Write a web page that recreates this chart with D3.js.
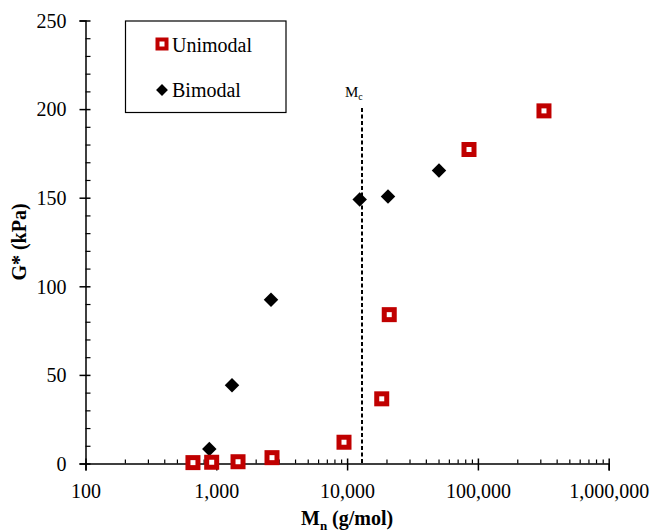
<!DOCTYPE html>
<html>
<head>
<meta charset="utf-8">
<script src="https://cdn.jsdelivr.net/npm/d3@7"></script>
<style>
  body { margin: 0; background: #fff; }
  svg { font-family: "Liberation Serif", "Times New Roman", serif; }
</style>
</head>
<body>
<svg></svg>
<script>
// Data
const uniMn = [663, 922, 1466, 2666, 9470, 18400, 21000, 85500, 320000];
const uniG = [0.5, 0.7, 1.0, 3.3, 12, 36.5, 84, 177.2, 199];
const biMn = [884, 1318, 2619, 12480, 20550, 50400];
const biG = [8.2, 44.1, 92.4, 149, 150.7, 165.4];
const mcValue = 13000;
const xMajor = [100, 1000, 10000, 100000, 1000000];
const yMajor = [0, 50, 100, 150, 200, 250];
const legendLabels = ["Unimodal", "Bimodal"];

const width = 654, height = 532;
const margin = {top: 20.5, right: 45.3, bottom: 68.5, left: 85.5};
const red = "#C00000";

const svg = d3.select("svg").attr("width", width).attr("height", height);

const x = d3.scaleLog()
  .domain([100, 1000000])
  .range([margin.left, width - margin.right]);
const y = d3.scaleLinear()
  .domain([0, 250])
  .range([height - margin.bottom, margin.top]);

const y0 = y(0);

// minor ticks
let xMinor = [];
for (let e = 2; e < 6; e++) {
  for (let k = 2; k < 10; k++) xMinor.push(k * Math.pow(10, e));
}
const yMinor = d3.range(0, 251, 10).filter(d => d % 50 != 0);

// x axis
const gx = svg.append("g").attr("transform", `translate(0,${y0})`)
  .call(d3.axisBottom(x).tickValues(xMajor).tickFormat(d3.format(",")).tickSize(7));
gx.selectAll(".tick line").attr("y1", -5).attr("stroke-width", 1.5);
gx.selectAll(".tick text").attr("y", 34).attr("dy", 0).attr("font-size", 20)
  .attr("font-family", "Liberation Serif").attr("fill", "#000");
gx.select(".domain").attr("stroke-width", 1.5);

svg.append("g").attr("transform", `translate(0,${y0})`)
  .call(d3.axisTop(x).tickValues(xMinor).tickFormat("").tickSize(4))
  .call(g => g.select(".domain").remove())
  .selectAll("line").attr("stroke-width", 1.2);

// y axis
const gy = svg.append("g").attr("transform", `translate(${margin.left},0)`)
  .call(d3.axisLeft(y).tickValues(yMajor).tickSize(6));
gy.selectAll(".tick line").attr("x2", 5).attr("x1", -6).attr("stroke-width", 1.5);
gy.selectAll(".tick text").attr("x", -19).attr("dy", "0.34em").attr("font-size", 20)
  .attr("font-family", "Liberation Serif").attr("fill", "#000");
gy.select(".domain").attr("stroke-width", 1.5);

svg.append("g").attr("transform", `translate(${margin.left},0)`)
  .call(d3.axisRight(y).tickValues(yMinor).tickFormat("").tickSize(5))
  .call(g => g.select(".domain").remove())
  .selectAll("line").attr("stroke-width", 1.2);

// axis titles
const xt = svg.append("text")
  .attr("x", (x.range()[0] + x.range()[1]) / 2)
  .attr("y", 524.5)
  .attr("text-anchor", "middle")
  .attr("font-size", 20).attr("font-weight", "bold");
xt.append("tspan").text("M");
xt.append("tspan").attr("font-size", 13).attr("dy", 5).text("n");
xt.append("tspan").attr("dy", -5).text(" (g/mol)");

svg.append("text")
  .attr("transform", `translate(26,${(y.range()[0] + y.range()[1]) / 2}) rotate(-90)`)
  .attr("text-anchor", "middle")
  .attr("font-size", 20).attr("font-weight", "bold")
  .text("G* (kPa)");

// Mc line
svg.append("line")
  .attr("x1", x(mcValue)).attr("x2", x(mcValue))
  .attr("y1", 108).attr("y2", y0)
  .attr("stroke", "#000").attr("stroke-width", 2)
  .attr("stroke-dasharray", "4,2.5");

const mc = svg.append("text")
  .attr("x", x(mcValue) - 17).attr("y", 96.5)
  .attr("font-size", 15);
mc.append("tspan").text("M");
mc.append("tspan").attr("font-size", 10).attr("dy", 3).text("c");

// points
const uni = uniMn.map((d, i) => ({mn: d, g: uniG[i]}));
const bi = biMn.map((d, i) => ({mn: d, g: biG[i]}));

const diamond = d3.symbol().type(d3.symbolSquare).size(105);

svg.append("g").selectAll("path")
  .data(bi)
  .join("path")
  .attr("d", diamond)
  .attr("transform", d => `translate(${x(d.mn)},${y(d.g)}) rotate(45)`)
  .attr("fill", "#000");

svg.append("g").selectAll("rect")
  .data(uni)
  .join("rect")
  .attr("x", d => x(d.mn) - 5)
  .attr("y", d => y(d.g) - 5)
  .attr("width", 10).attr("height", 10)
  .attr("fill", "#fff")
  .attr("stroke", red).attr("stroke-width", 5);

// legend
const lg = svg.append("g");
lg.append("rect")
  .attr("x", 125.5).attr("y", 21).attr("width", 160.5).attr("height", 91.5)
  .attr("fill", "#fff").attr("stroke", "#000").attr("stroke-width", 1.2);
lg.append("rect")
  .attr("x", 157.5).attr("y", 39.5).attr("width", 9).attr("height", 9)
  .attr("fill", "#fff").attr("stroke", red).attr("stroke-width", 4);
lg.append("path")
  .attr("d", d3.symbol().type(d3.symbolSquare).size(70))
  .attr("transform", "translate(162,90) rotate(45)")
  .attr("fill", "#000");
lg.selectAll("text.lbl")
  .data(legendLabels)
  .join("text")
  .attr("class", "lbl")
  .attr("x", 172)
  .attr("y", (d, i) => i == 0 ? 52 : 97)
  .attr("font-size", 20)
  .text(d => d);
</script>
</body>
</html>
